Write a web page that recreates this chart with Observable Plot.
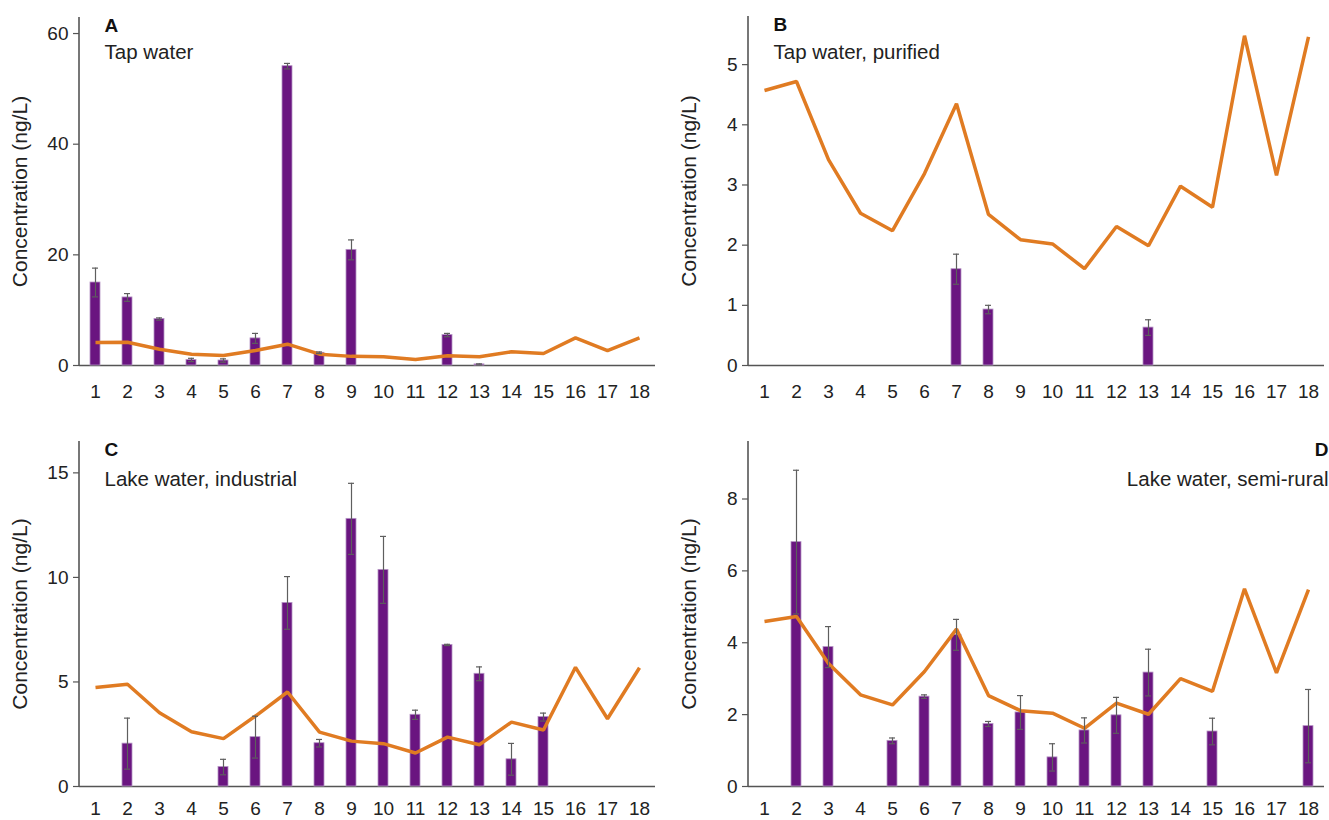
<!DOCTYPE html>
<html><head><meta charset="utf-8">
<script src="https://cdn.jsdelivr.net/npm/d3@7"></script>
<script src="https://cdn.jsdelivr.net/npm/@observablehq/plot@0.6"></script>
<style>
body{margin:0;background:#fff;}
#wrap{position:relative;width:1329px;height:820px;overflow:hidden;}
.panel{position:absolute;}
.panel svg{overflow:visible;}
</style></head><body><div id="wrap"></div>
<script>
// ---- data ----
const categories = ["1","2","3","4","5","6","7","8","9","10","11","12","13","14","15","16","17","18"];

const letters = ["A", "B", "C", "D"];
const titles = ["Tap water", "Tap water, purified", "Lake water, industrial", "Lake water, semi-rural"];
const yLabel = "Concentration (ng/L)";

// Panel A
const barA  = [15.0, 12.3, 8.4, 1.0, 0.9, 4.9, 54.1, 2.3, 20.9, null, null, 5.5, 0.2, null, null, null, null, null];
const errA  = [2.6, 0.7, 0.2, 0.3, 0.3, 0.9, 0.5, 0.15, 1.8, null, null, 0.3, 0.1, null, null, null, null, null];
const lineA = [4.15, 4.2, 2.95, 2.05, 1.8, 2.7, 3.85, 2.05, 1.65, 1.57, 1.08, 1.75, 1.57, 2.47, 2.17, 5.0, 2.7, 5.0];
const ticksA = [0, 20, 40, 60];

// Panel B
const barB  = [null, null, null, null, null, null, 1.6, 0.93, null, null, null, null, 0.63, null, null, null, null, null];
const errB  = [null, null, null, null, null, null, 0.25, 0.07, null, null, null, null, 0.13, null, null, null, null, null];
const lineB = [4.57, 4.72, 3.42, 2.53, 2.24, 3.19, 4.35, 2.51, 2.09, 2.02, 1.61, 2.31, 1.99, 2.98, 2.63, 5.48, 3.16, 5.46];
const ticksB = [0, 1, 2, 3, 4, 5];

// Panel C
const barC  = [null, 2.05, null, null, 0.93, 2.36, 8.78, 2.07, 12.8, 10.36, 3.43, 6.77, 5.39, 1.3, 3.32, null, null, null];
const errC  = [null, 1.22, null, null, 0.37, 1.0, 1.26, 0.18, 1.7, 1.6, 0.22, 0.03, 0.33, 0.76, 0.19, null, null, null];
const lineC = [4.73, 4.89, 3.53, 2.62, 2.29, 3.37, 4.52, 2.6, 2.17, 2.05, 1.6, 2.36, 2.0, 3.08, 2.7, 5.7, 3.24, 5.68];
const ticksC = [0, 5, 10, 15];

// Panel D
const barD  = [null, 6.8, 3.88, null, 1.27, 2.5, 4.22, 1.74, 2.06, 0.81, 1.56, 1.98, 3.17, null, 1.53, null, null, 1.68];
const errD  = [null, 2.0, 0.57, null, 0.08, 0.05, 0.43, 0.07, 0.47, 0.38, 0.35, 0.5, 0.65, null, 0.37, null, null, 1.02];
const lineD = [4.59, 4.73, 3.42, 2.55, 2.27, 3.2, 4.38, 2.53, 2.11, 2.04, 1.62, 2.32, 2.01, 3.0, 2.65, 5.5, 3.16, 5.48];
const ticksD = [0, 2, 4, 6, 8];

// ---- styling ----
const FONT = "'Liberation Sans', Arial, sans-serif";
const PURPLE = "#6a1580";
const PURPLE_EDGE = "#b593c4";
const ORANGE = "#e07b22";
const AXIS = "#555";
const ERR = "#5e5e5e";

const panels = [
  {bar: barA, err: errA, line: lineA, ticks: ticksA, ymax: 62.9, left: 0,   top: 0,   w: 665, h: 410, mt: 17, mb: 45, ml: 79, mr: 10, po: 0.27, tp: 19, align: "left",  ldy: 8, tdy: 35},
  {bar: barB, err: errB, line: lineB, ticks: ticksB, ymax: 5.8,  left: 665, top: 0,   w: 664, h: 410, mt: 16, mb: 45, ml: 83, mr: 5,  po: 0.34, tp: 19, align: "left",  ldy: 8, tdy: 36},
  {bar: barC, err: errC, line: lineC, ticks: ticksC, ymax: 16.5, left: 0,   top: 420, w: 665, h: 400, mt: 21, mb: 34, ml: 79, mr: 10, po: 0.27, tp: 15, align: "left",  ldy: 8, tdy: 37.5},
  {bar: barD, err: errD, line: lineD, ticks: ticksD, ymax: 9.6,  left: 665, top: 420, w: 664, h: 400, mt: 21, mb: 34, ml: 83, mr: 5,  po: 0.34, tp: 15, align: "right", ldy: 8, tdy: 37.5}
];

const wrap = document.getElementById("wrap");

panels.forEach((p, k) => {
  const rows = categories.map((c, i) => ({cat: c, bar: p.bar[i], err: p.err[i], line: p.line[i]}));
  const bars = rows.filter(d => d.bar != null);
  const errs = bars.filter(d => d.err != null && d.err > 0);
  const right = p.align === "right";
  const yAxisLine = (index, scales, values, dims) =>
    d3.create("svg:line")
      .attr("x1", dims.marginLeft).attr("x2", dims.marginLeft)
      .attr("y1", dims.marginTop).attr("y2", dims.height - dims.marginBottom)
      .attr("stroke", AXIS).attr("stroke-width", 1.6)
      .node();
  const chart = Plot.plot({
    width: p.w, height: p.h,
    marginTop: p.mt, marginBottom: p.mb, marginLeft: p.ml, marginRight: p.mr,
    style: {fontFamily: FONT, fontSize: "19px", color: "#222", background: "transparent", overflow: "visible"},
    x: {type: "band", domain: categories, paddingInner: 0.68, paddingOuter: p.po, axis: null},
    y: {domain: [0, p.ymax], axis: null},
    marks: [
      Plot.axisX({tickSize: 0, tickPadding: p.tp, fontSize: 19, fill: "#222", label: null}),
      Plot.axisY({ticks: p.ticks, tickFormat: d => String(d), tickSize: 6, tickPadding: 5, stroke: AXIS, strokeWidth: 1.2, fontSize: 19, fill: "#222", label: null}),
      yAxisLine,
      Plot.text([yLabel], {frameAnchor: "left", textAnchor: "middle", lineAnchor: "middle", dx: -59, rotate: -90, fontSize: 21, fill: "#222"}),
      Plot.ruleY([0], {stroke: AXIS, strokeWidth: 1.6}),
      Plot.barY(bars, {x: "cat", y: "bar", fill: PURPLE, stroke: PURPLE_EDGE, strokeWidth: 0.8}),
      Plot.line(rows, {x: "cat", y: "line", stroke: ORANGE, strokeWidth: 3.5, strokeLinejoin: "miter", strokeLinecap: "butt"}),
      Plot.ruleX(errs, {x: "cat", y1: d => d.bar - d.err, y2: d => d.bar + d.err, stroke: ERR, strokeWidth: 1.2}),
      Plot.tickY(errs, {x: "cat", y: d => d.bar + d.err, stroke: ERR, strokeWidth: 1.2, insetLeft: 2, insetRight: 2}),
      Plot.tickY(errs, {x: "cat", y: d => d.bar - d.err, stroke: ERR, strokeWidth: 1.2, insetLeft: 2, insetRight: 2}),
      Plot.text([letters[k]], {frameAnchor: right ? "top-right" : "top-left", textAnchor: right ? "end" : "start", lineAnchor: "middle", dx: right ? 4 : 25, dy: p.ldy, fontSize: 19, fontWeight: "bold", fill: "#111"}),
      Plot.text([titles[k]], {frameAnchor: right ? "top-right" : "top-left", textAnchor: right ? "end" : "start", lineAnchor: "middle", dx: right ? 4 : 25, dy: p.tdy, fontSize: 20.5, fill: "#222"})
    ]
  });
  const div = document.createElement("div");
  div.className = "panel";
  div.style.left = p.left + "px";
  div.style.top = p.top + "px";
  div.appendChild(chart);
  wrap.appendChild(div);
});
</script>
</body></html>
